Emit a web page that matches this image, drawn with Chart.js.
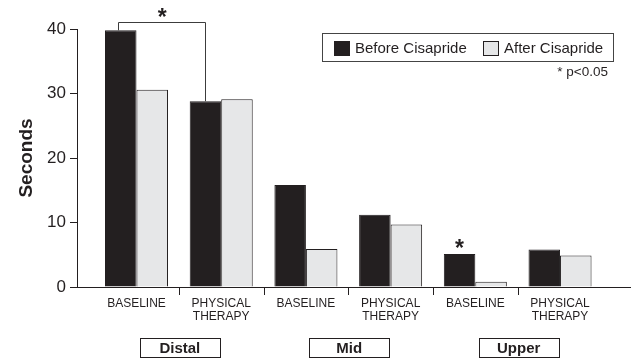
<!DOCTYPE html>
<html>
<head>
<meta charset="utf-8">
<script src="https://cdn.jsdelivr.net/npm/chart.js@4.4.1/dist/chart.umd.min.js"></script>
<style>
  body { margin: 0; background: #fff; }
  #wrap { width: 631px; height: 359px; position: relative; }
</style>
</head>
<body>
<div id="wrap"><canvas id="chartCisapride"></canvas></div>
<script>
var categories   = [0, 1, 2, 3, 4, 5];
var tickLabels   = [['BASELINE'], ['PHYSICAL', 'THERAPY'], ['BASELINE'], ['PHYSICAL', 'THERAPY'], ['BASELINE'], ['PHYSICAL', 'THERAPY']];
var beforeValues = [39.8, 28.8, 15.8, 11.2, 5.1, 5.8];
var afterValues  = [30.6, 29.1, 5.9, 9.7, 0.8, 4.9];
var regions      = ['Distal', 'Mid', 'Upper'];
var seriesNames  = ['Before Cisapride', 'After Cisapride'];
var yTicks       = [0, 10, 20, 30, 40];

var ink  = '#231f20';
var gray = '#e6e7e8';
var font = '"Liberation Sans", Arial, sans-serif';

function points(values) {
    return categories.map(function (c, i) { return {x: c, y: values[i]}; });
}

// extra things drawn on top: region boxes, separators, bracket, stars, legend
var extras = {
    id: 'extras',
    afterDraw: function (chart) {
        var ctx = chart.ctx;
        var xs = chart.scales.x;
        var area = chart.chartArea;
        var i;
        ctx.save();
        ctx.strokeStyle = ink;
        ctx.lineWidth = 1;

        // small ticks between the categories
        for (i = 0; i < categories.length - 1; i++) {
            var px = Math.round(xs.getPixelForValue(i + 0.5)) + 0.5;
            ctx.beginPath();
            ctx.moveTo(px, area.bottom);
            ctx.lineTo(px, area.bottom + 8);
            ctx.stroke();
        }

        // region boxes
        ctx.font = 'bold 15px ' + font;
        ctx.textAlign = 'center';
        ctx.textBaseline = 'middle';
        ctx.fillStyle = ink;
        for (i = 0; i < regions.length; i++) {
            var cx = xs.getPixelForValue(i * 2 + 0.5) + 1;
            ctx.strokeRect(Math.round(cx - 40) + 0.5, 338.5, 80, 19);
            ctx.fillText(regions[i], cx, 349);
        }

        // significance bracket (Distal baseline vs physical therapy)
        var bars = chart.getDatasetMeta(0).data;
        var a = bars[0], b = bars[1];
        ctx.strokeStyle = '#3c3c3c';
        ctx.beginPath();
        ctx.moveTo(Math.round(a.x - 3) + 0.5, a.y);
        ctx.lineTo(Math.round(a.x - 3) + 0.5, 22.5);
        ctx.lineTo(Math.round(b.x) + 0.5, 22.5);
        ctx.lineTo(Math.round(b.x) + 0.5, b.y);
        ctx.stroke();

        ctx.font = 'bold 23px ' + font;
        ctx.textBaseline = 'alphabetic';
        ctx.fillText('*', (a.x + b.x) / 2 - 1, 25);
        var c = bars[4];
        ctx.fillText('*', c.x, c.y + 2);

        // legend
        var ds = chart.data.datasets;
        ctx.strokeStyle = '#444';
        ctx.strokeRect(322.5, 33.5, 291, 28);
        ctx.font = '15px ' + font;
        ctx.textAlign = 'left';
        ctx.textBaseline = 'middle';
        var lx = [334, 483];
        for (i = 0; i < ds.length; i++) {
            ctx.fillStyle = ds[i].backgroundColor;
            ctx.fillRect(lx[i], 41, 16, 15);
            ctx.strokeStyle = ink;
            ctx.strokeRect(lx[i] + 0.5, 41.5, 15, 14);
            ctx.fillStyle = ink;
            ctx.fillText(seriesNames[i], lx[i] + 21, 48.5);
        }

        ctx.font = '13.5px ' + font;
        ctx.textAlign = 'right';
        ctx.fillText('* p<0.05', 608, 72);
        ctx.restore();
    }
};

function drawChart() {
    var ctx = document.getElementById('chartCisapride');
    var data = {
        datasets: [{
            label: seriesNames[0],
            data: points(beforeValues),
            backgroundColor: ink,
            borderColor: ink,
            borderWidth: 1
        }, {
            label: seriesNames[1],
            data: points(afterValues),
            backgroundColor: gray,
            borderColor: ink,
            borderWidth: 1
        }]
    };
    var options = {
        responsive: true,
        maintainAspectRatio: false,
        animation: false,
        categoryPercentage: 0.744,
        barPercentage: 1.0,
        layout: { padding: { top: 29, right: 1, left: 0, bottom: 0 } },
        plugins: {
            legend: { display: false },
            tooltip: { enabled: false }
        },
        scales: {
            x: {
                type: 'linear',
                offset: false,
                min: -0.7025,
                max: 5.826,
                grid: { display: false },
                border: { display: true, color: ink, width: 1 },
                afterBuildTicks: function (s) {
                    s.ticks = categories.map(function (v) { return {value: v}; });
                },
                afterFit: function (s) { s.height = 72; },
                ticks: {
                    autoSkip: false,
                    maxRotation: 0,
                    padding: 2,
                    color: ink,
                    font: { family: font, size: 12, lineHeight: 1.1 },
                    callback: function (v, index) { return tickLabels[index]; }
                }
            },
            y: {
                min: 0,
                max: 40,
                afterBuildTicks: function (s) {
                    s.ticks = yTicks.map(function (v) { return {value: v}; });
                },
                afterFit: function (s) { s.width = 77; },
                grid: { display: true, drawOnChartArea: false, drawTicks: true, tickLength: 7, color: ink },
                border: { display: true, color: ink, width: 1 },
                ticks: {
                    padding: 4,
                    color: ink,
                    font: { family: font, size: 17 }
                },
                title: {
                    display: true,
                    text: 'Seconds',
                    color: ink,
                    padding: { top: 15, bottom: 0 },
                    font: { family: font, size: 19, weight: 'bold' }
                }
            }
        }
    };
    new Chart(ctx, {
        type: 'bar',
        data: data,
        options: options,
        plugins: [extras]
    });
}

drawChart();
</script>
</body>
</html>
